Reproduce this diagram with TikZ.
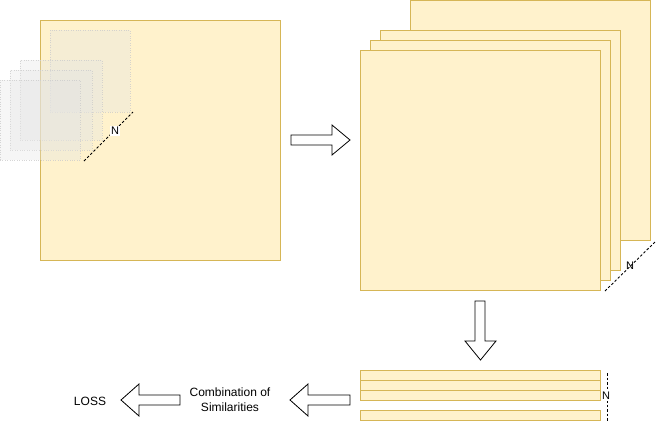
\documentclass[tikz,border=0pt]{standalone}
\usepackage{fontspec}
\setmainfont{Liberation Sans}
\definecolor{fillY}{HTML}{FFF2CC}
\definecolor{strokeY}{HTML}{D6B656}
\begin{document}
\begin{tikzpicture}[x=1pt,y=-1pt,
  card/.style={draw=strokeY, fill=fillY, line width=1pt, inner sep=0pt, outer sep=0pt, anchor=north west, minimum width=240, minimum height=240},
  bar/.style={draw=strokeY, fill=fillY, line width=1pt, inner sep=0pt, outer sep=0pt, anchor=north west, minimum width=240, minimum height=10},
  ghost/.style={draw=gray!40, dotted, fill=gray!20, fill opacity=0.35, draw opacity=0.8, inner sep=0pt, outer sep=0pt, anchor=north west},
  blockarrow/.style={draw=black, fill=white, line width=0.8pt, line join=miter},
  nline/.style={dash pattern=on 2.5pt off 2pt, line width=0.9pt},
  nlbl/.style={font=\fontsize{11}{13}\selectfont, inner sep=1pt, fill=white},
  lbl/.style={font=\fontsize{12}{15}\selectfont, align=center, inner sep=0pt}]
\useasboundingbox (0,0) rectangle (657,421);

% left big square with ghost patches
\node[card] (big) at (40,20) {};
\node[ghost, minimum width=80, minimum height=82] (g1) at (50,30) {};
\node[ghost, minimum width=82, minimum height=80] (g2) at (20,60) {};
\node[ghost, minimum width=82, minimum height=80] (g3) at (10,70) {};
\node[ghost, minimum width=80, minimum height=80] (g4) at (0,80) {};
\coordinate (na) at (84,161);
\coordinate (nb) at (133,112);
\draw[nline] (na) -- (nb);
\node[nlbl] (n1) at (115,131) {N};

% right stack
\node[card] (s4) at (410,0) {};
\node[card] (s3) at (380,30) {};
\node[card] (s2) at (370,40) {};
\node[card] (s1) at (360,50) {};
\coordinate (nc) at (605,291);
\coordinate (nd) at (655,242);
\draw[nline] (nc) -- (nd);
\node[nlbl, fill=none] (n2) at (630,266) {N};

% block arrows
\draw[blockarrow] (291,135) -- (332,135) -- (332,125) -- (350,140) -- (332,155) -- (332,145) -- (291,145) -- cycle;
\draw[blockarrow] (475,301) -- (485,301) -- (485,341) -- (496,341) -- (480.5,360) -- (465,341) -- (475,341) -- cycle;
\draw[blockarrow] (350,395) -- (308,395) -- (308,384) -- (290,400) -- (308,416) -- (308,405) -- (350,405) -- cycle;
\draw[blockarrow] (180,395) -- (139,395) -- (139,384) -- (121,400) -- (139,416) -- (139,405) -- (180,405) -- cycle;

% bottom bars
\node[bar] (b1) at (360,370) {};
\node[bar] (b2) at (360,380) {};
\node[bar] (b3) at (360,390) {};
\node[bar] (b4) at (360,410) {};
\coordinate (ne) at (607,373);
\coordinate (nf) at (607,421);
\draw[nline] (ne) -- (nf);
\node[nlbl] (n3) at (606,396) {N};

% labels
\node[lbl] (comb) at (230,400) {Combination of\\Similarities};
\node[lbl] (loss) at (90,401) {LOSS};
\end{tikzpicture}
\end{document}
